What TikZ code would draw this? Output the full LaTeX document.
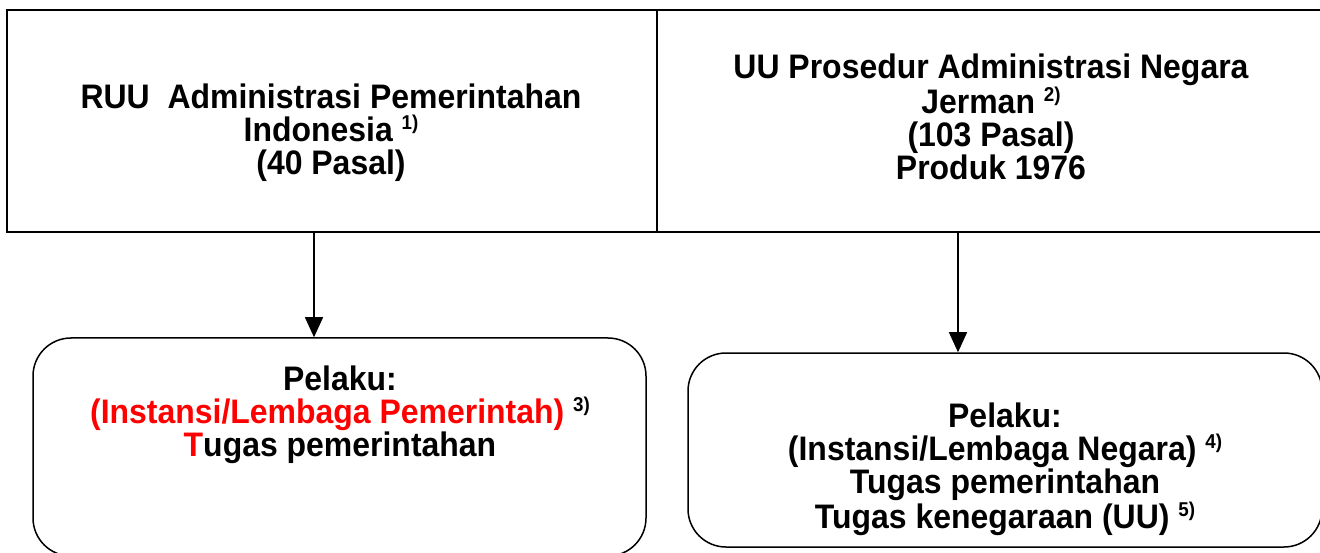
\documentclass[tikz,border=0pt]{standalone}
\usepackage{fontspec}
\setmainfont{Liberation Sans}[FakeStretch=0.94]
\usetikzlibrary{arrows.meta}
\newcommand{\supnote}[1]{\ {\fontsize{20}{20}\selectfont\raisebox{12pt}{#1}}}
\begin{document}
\begin{tikzpicture}[x=1pt,y=-1pt,
  topbox/.style={draw, line width=2pt, inner sep=0pt},
  roundbox/.style={draw, line width=1.5pt, rounded corners=38pt, inner sep=0pt},
  txt/.style={align=center, font=\fontsize{34}{33}\selectfont\bfseries, inner sep=0pt},
  arr/.style={line width=1.3pt, -{Triangle[length=20pt,width=18pt]}}]
\useasboundingbox (0,0) rectangle (1320,553);
\node[topbox, minimum width=650pt, minimum height=222pt] (tl) at (332,121) {};
\node[topbox, minimum width=668pt, minimum height=222pt] (tr) at (991,121) {};
\node[roundbox, minimum width=613pt, minimum height=218pt] (bl) at (339.5,447) {};
\node[roundbox, minimum width=634pt, minimum height=194pt] (br) at (1005,450) {};
\node[txt] (tltext) at (331,133) {RUU\ \ Administrasi Pemerintahan\\Indonesia\supnote{1)}\\(40 Pasal)};
\node[txt] (trtext) at (991,117) {UU Prosedur Administrasi Negara\\Jerman\supnote{2)}\\(103 Pasal)\\Produk 1976};
\node[txt] (bltext) at (340,415) {Pelaku:\\\textcolor{red}{(Instansi/Lembaga Pemerintah)}\supnote{3)}\\\textcolor{red}{T}ugas pemerintahan};
\node[txt] (brtext) at (1005,469) {Pelaku:\\(Instansi/Lembaga Negara)\supnote{4)}\\Tugas pemerintahan\\Tugas kenegaraan (UU)\supnote{5)}};
\coordinate (s1) at (314,232);
\coordinate (s2) at (958,232);
\draw[arr] (s1) -- (s1 |- bl.north);
\draw[arr] (s2) -- (s2 |- br.north);
\end{tikzpicture}
\end{document}
